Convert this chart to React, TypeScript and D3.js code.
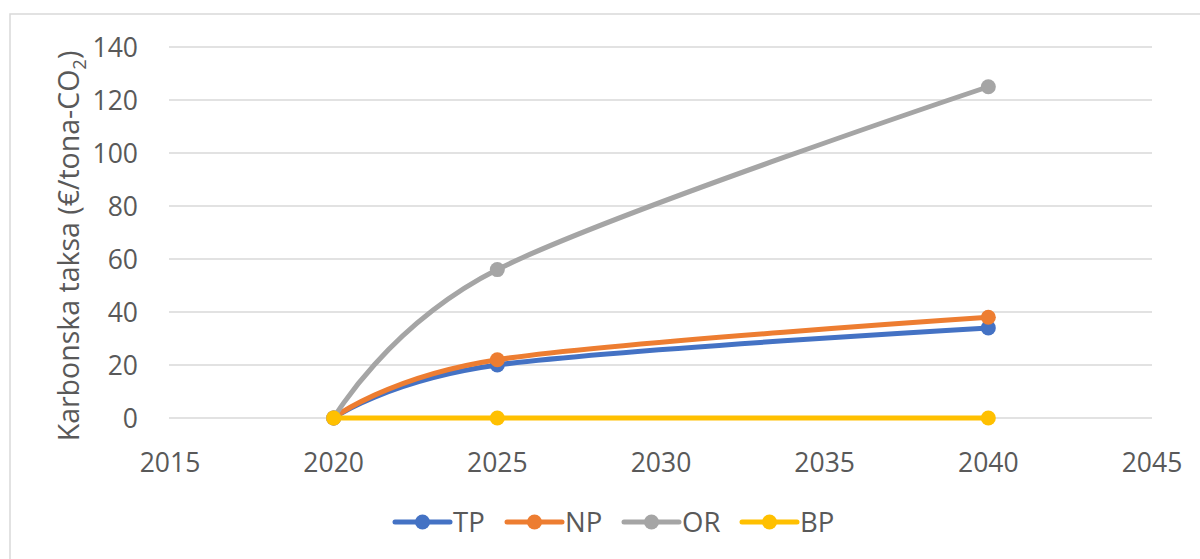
import React from "react";
import * as d3 from "d3";

const years = [2020, 2025, 2040];
const seriesNames = ["TP", "NP", "OR", "BP"];
const tpValues = [0, 20, 34];
const npValues = [0, 22, 38];
const orValues = [0, 56, 125];
const bpValues = [0, 0, 0];
const colors = ["#4472C4", "#ED7D31", "#A5A5A5", "#FFC000"];
const xTicks = [2015, 2020, 2025, 2030, 2035, 2040, 2045];
const yTicks = [0, 20, 40, 60, 80, 100, 120, 140];

const W = 1200;
const H = 559;
const FONT = "'Open Sans', 'Liberation Sans', sans-serif";
const TEXT = "#595959";

export default function App() {
  const x = d3.scaleLinear().domain([2015, 2045]).range([170, 1152]);
  const y = d3.scaleLinear().domain([0, 140]).range([418, 47]);
  const allValues = [tpValues, npValues, orValues, bpValues];
  const line = d3
    .line<[number, number]>()
    .x((d) => x(d[0]))
    .y((d) => y(d[1]))
    .curve(d3.curveCatmullRom.alpha(0));

  const legendX = [395, 507, 624, 742];

  return (
    <svg
      width={W}
      height={H}
      style={{ position: "absolute", left: 0, top: 0, background: "#fff" }}
      fontFamily={FONT}
    >
      <rect x={10} y={14} width={1200} height={560} fill="#fff" stroke="#D9D9D9" strokeWidth={1.5} />
      {yTicks.map((t) => (
        <g key={t}>
          <line x1={169} x2={1152} y1={y(t)} y2={y(t)} stroke="#D9D9D9" strokeWidth={1.5} />
          <text x={138} y={y(t)} dy="0.36em" textAnchor="end" fontSize={26.5} fill={TEXT}>
            {t}
          </text>
        </g>
      ))}
      {xTicks.map((t) => (
        <text key={t} x={x(t)} y={472} textAnchor="middle" fontSize={26.5} fill={TEXT}>
          {t}
        </text>
      ))}
      <text
        transform={`translate(79, 246) rotate(-90)`}
        textAnchor="middle"
        fontSize={28.5}
        fill={TEXT}
      >
        Karbonska taksa (€/tona-CO
        <tspan fontSize={18.5} dy={7}>2</tspan>
        <tspan dy={-7}>)</tspan>
      </text>
      {allValues.map((vals, i) => {
        const pts: [number, number][] = years.map((yr, j) => [yr, vals[j]]);
        return (
          <g key={seriesNames[i]}>
            <path d={line(pts) || ""} fill="none" stroke={colors[i]} strokeWidth={5} strokeLinecap="round" />
            {pts.map((p, j) => (
              <circle key={j} cx={x(p[0])} cy={y(p[1])} r={7.5} fill={colors[i]} />
            ))}
          </g>
        );
      })}
      {seriesNames.map((n, i) => (
        <g key={n}>
          <line x1={legendX[i]} x2={legendX[i] + 55} y1={522} y2={522} stroke={colors[i]} strokeWidth={5} strokeLinecap="round" />
          <circle cx={legendX[i] + 27.5} cy={522} r={7.5} fill={colors[i]} />
          <text x={legendX[i] + 58} y={522} dy="0.36em" fontSize={27.5} fill={TEXT}>
            {n}
          </text>
        </g>
      ))}
    </svg>
  );
}
